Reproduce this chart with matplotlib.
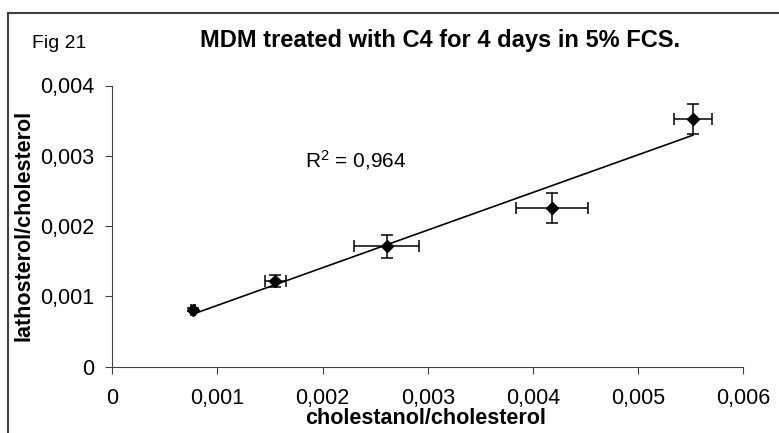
import numpy as np
import matplotlib
matplotlib.use('Agg')
import matplotlib.pyplot as plt
from matplotlib.lines import Line2D
from matplotlib.ticker import FuncFormatter

# values
cholestanol = [0.00077, 0.00155, 0.00261, 0.00418, 0.00552]
cholestanol_err = [0.00002, 0.00010, 0.00031, 0.00034, 0.00018]
lathosterol = [0.00081, 0.00122, 0.00171, 0.00226, 0.00352]
lathosterol_err = [0.00002, 0.00008, 0.00017, 0.00021, 0.00021]
x_ticks = [0, 0.001, 0.002, 0.003, 0.004, 0.005, 0.006]
y_ticks = [0, 0.001, 0.002, 0.003, 0.004]
r2_label = 0.964

plt.rcParams['font.family'] = ['Liberation Sans', 'DejaVu Sans']

fig = plt.figure(figsize=(7.79, 4.33), dpi=100)
ax = fig.add_axes([112.3/779, 1-366.7/433, (743.3-112.3)/779, (366.7-85.5)/433])

ax.errorbar(cholestanol, lathosterol, xerr=cholestanol_err, yerr=lathosterol_err,
            fmt='D', color='black', ms=6, ecolor='black', elinewidth=1.1,
            capsize=4.5, capthick=1.1, zorder=3)

# linear trendline over the data range (like excel)
slope, icpt = np.polyfit(cholestanol, lathosterol, 1)
xs = np.array([min(cholestanol), max(cholestanol)])
ax.plot(xs, slope*xs + icpt, color='black', lw=1.2, zorder=2)

ax.set_xlim(0, 0.006)
ax.set_ylim(0, 0.004)
ax.set_xticks(x_ticks)
ax.set_yticks(y_ticks)
fmt = FuncFormatter(lambda v, p: '0' if v == 0 else ('%.3f' % v).replace('.', ','))
ax.xaxis.set_major_formatter(fmt)
ax.yaxis.set_major_formatter(fmt)
ax.tick_params(axis='both', direction='out', length=5, width=0.8, color='#404040', labelsize=15.5)
ax.tick_params(axis='x', pad=10)
ax.tick_params(axis='y', pad=8)
for s in ['top', 'right']:
    ax.spines[s].set_visible(False)
for s in ['left', 'bottom']:
    ax.spines[s].set_color('#404040')
    ax.spines[s].set_linewidth(0.8)

fig.text(426/779, 1-419/433, 'cholestanol/cholesterol', ha='center', va='center',
         fontsize=15.5, fontweight='bold')
fig.text(24/779, 1-225/433, 'lathosterol/cholesterol', ha='center', va='center',
         fontsize=15.5, fontweight='bold', rotation=90)
fig.text(440/779, 1-41/433, 'MDM treated with C4 for 4 days in 5% FCS.', ha='center',
         va='center', fontsize=17, fontweight='bold')
fig.text(32/779, 1-44/433, 'Fig 21', ha='left', va='center', fontsize=14)
fig.text(305/779, 1-160/433, '$\\mathregular{R^2}$ = ' + str(r2_label).replace('.', ','),
         ha='left', va='center', fontsize=15)

# chart area border (only top and left are inside the picture)
fig.add_artist(Line2D([8/779, 8/779], [0, 1-13/433], color='#404040', lw=1.5))
fig.add_artist(Line2D([8/779, 1], [1-13/433, 1-13/433], color='#404040', lw=1.5))

fig.savefig('out.png', dpi=100)
